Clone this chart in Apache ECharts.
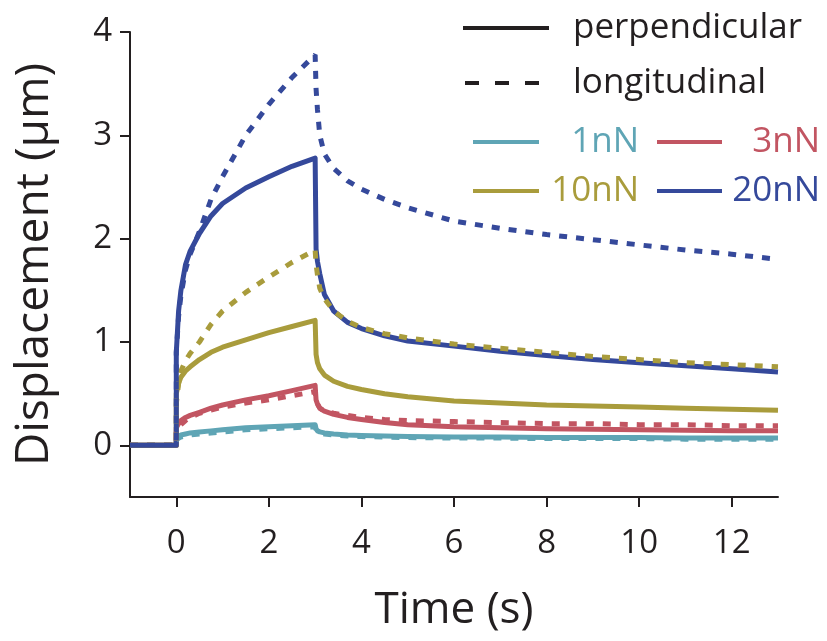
<!DOCTYPE html>
<html>
<head>
<meta charset="utf-8">
<script src="https://cdn.jsdelivr.net/npm/echarts@6/dist/echarts.min.js"></script>
<style>
html,body{margin:0;padding:0;background:#fff;}
#chart{width:827px;height:641px;}
</style>
</head>
<body>
<div id="chart"></div>
<script>
// Shared time samples (s); duplicated 0 / near-3 entries give the step on/off of the force
const time = [-1, 0, 0, 0.05, 0.1, 0.2, 0.3, 0.5, 0.75, 1, 1.5, 2, 2.5, 3, 3.02, 3.05, 3.1, 3.2, 3.4, 3.7, 4, 4.5, 5, 6, 7, 8, 9, 10, 11, 12, 13];

// Displacement (µm)
const perp1nN  = [0, 0, 0.07, 0.09, 0.10, 0.11, 0.12, 0.13, 0.14, 0.15, 0.17, 0.18, 0.19, 0.20, 0.16, 0.14, 0.13, 0.12, 0.11, 0.10, 0.095, 0.09, 0.085, 0.08, 0.08, 0.075, 0.075, 0.075, 0.07, 0.07, 0.07];
const long1nN  = [0, 0, 0.05, 0.07, 0.08, 0.09, 0.10, 0.11, 0.12, 0.13, 0.15, 0.16, 0.17, 0.18, 0.15, 0.13, 0.12, 0.11, 0.10, 0.09, 0.085, 0.08, 0.075, 0.07, 0.07, 0.065, 0.065, 0.065, 0.06, 0.06, 0.06];
const perp3nN  = [0, 0, 0.17, 0.21, 0.24, 0.27, 0.29, 0.32, 0.36, 0.39, 0.44, 0.48, 0.53, 0.58, 0.44, 0.40, 0.36, 0.33, 0.30, 0.27, 0.25, 0.22, 0.20, 0.18, 0.17, 0.16, 0.155, 0.15, 0.145, 0.14, 0.14];
const long3nN  = [0, 0, 0.12, 0.17, 0.20, 0.24, 0.27, 0.31, 0.34, 0.37, 0.41, 0.44, 0.48, 0.52, 0.44, 0.40, 0.36, 0.33, 0.31, 0.29, 0.27, 0.25, 0.24, 0.23, 0.22, 0.21, 0.21, 0.20, 0.20, 0.19, 0.19];
const perp10nN = [0, 0, 0.50, 0.60, 0.66, 0.72, 0.76, 0.83, 0.90, 0.95, 1.02, 1.09, 1.15, 1.21, 0.88, 0.80, 0.74, 0.68, 0.62, 0.57, 0.54, 0.50, 0.47, 0.43, 0.41, 0.39, 0.38, 0.37, 0.36, 0.35, 0.34];
const long10nN = [0, 0, 0.40, 0.60, 0.72, 0.82, 0.89, 1.00, 1.17, 1.30, 1.48, 1.63, 1.77, 1.89, 1.75, 1.65, 1.52, 1.42, 1.30, 1.20, 1.14, 1.08, 1.04, 0.98, 0.94, 0.90, 0.86, 0.83, 0.80, 0.78, 0.76];
const perp20nN = [0, 0, 0.90, 1.30, 1.50, 1.75, 1.88, 2.05, 2.22, 2.34, 2.49, 2.60, 2.70, 2.78, 1.90, 1.78, 1.66, 1.46, 1.30, 1.19, 1.13, 1.06, 1.01, 0.96, 0.91, 0.87, 0.83, 0.80, 0.77, 0.74, 0.71];
const long20nN = [0, 0, 0.90, 1.25, 1.45, 1.70, 1.85, 2.07, 2.38, 2.60, 3.00, 3.30, 3.56, 3.78, 3.45, 3.25, 3.00, 2.82, 2.68, 2.56, 2.48, 2.38, 2.30, 2.17, 2.10, 2.04, 1.99, 1.94, 1.89, 1.85, 1.80];

const xTicks = [0, 2, 4, 6, 8, 10, 12];
const yTicks = [0, 1, 2, 3, 4];
const forces = ['1nN', '3nN', '10nN', '20nN'];
const colors = ['#5fa5b5', '#c25562', '#a99c3c', '#35499b'];
const perpSets = [perp1nN, perp3nN, perp10nN, perp20nN];
const longSets = [long1nN, long3nN, long10nN, long20nN];

const FONT = '"Open Sans", "Noto Sans", sans-serif';
const TXT = '#231f20';

function pairs(vals) { return time.map((t, i) => [t, vals[i]]); }

const series = [];
perpSets.forEach((v, i) => series.push({
  name: forces[i] + ' perpendicular', type: 'line', data: pairs(v), symbol: 'none',
  lineStyle: { color: colors[i], width: 5, type: 'solid', join: 'round' }, z: 2 + i
}));
longSets.forEach((v, i) => series.push({
  name: forces[i] + ' longitudinal', type: 'line', data: pairs(v), symbol: 'none',
  lineStyle: { color: colors[i], width: 5, type: [8, 9], cap: 'butt' }, z: 10 + i
}));

const chart = echarts.init(document.getElementById('chart'));

function legendLine(x1, x2, y, color, dash) {
  return { type: 'line', shape: { x1: x1, y1: y, x2: x2, y2: y },
    style: { stroke: color, lineWidth: 4, lineDash: dash || null } };
}
function legendText(x, y, text, color, align) {
  return { type: 'text', x: x, y: y,
    style: { text: text, fill: color, font: '35px ' + FONT, textAlign: align || 'left', textVerticalAlign: 'middle' } };
}

const axisLineStyle = { color: TXT, width: 2 };

chart.setOption({
  animation: false,
  backgroundColor: '#fff',
  grid: { left: 130, right: 49, top: 32, bottom: 144 },
  xAxis: {
    type: 'value', min: -1, max: 13,
    name: 'Time (s)', nameLocation: 'middle', nameGap: 91,
    nameTextStyle: { fontFamily: FONT, fontSize: 44, color: TXT },
    axisLine: { show: true, onZero: false, lineStyle: axisLineStyle },
    axisTick: { show: true, inside: false, length: 10, lineStyle: axisLineStyle, customValues: xTicks },
    axisLabel: { fontFamily: FONT, fontSize: 33, color: TXT, margin: 30, customValues: xTicks },
    splitLine: { show: false }
  },
  yAxis: {
    type: 'value', min: -0.5, max: 4,
    name: 'Displacement (µm)', nameLocation: 'middle', nameGap: 72, nameRotate: 90,
    nameTextStyle: { fontFamily: FONT, fontSize: 46, color: TXT },
    axisLine: { show: true, onZero: false, lineStyle: axisLineStyle },
    axisTick: { show: true, inside: false, length: 10, lineStyle: axisLineStyle, customValues: yTicks },
    axisLabel: { fontFamily: FONT, fontSize: 33, color: TXT, margin: 18, customValues: yTicks },
    splitLine: { show: false }
  },
  series: series,
  graphic: [
    legendLine(463, 549, 28, TXT),
    legendText(573, 28, 'perpendicular', TXT),
    legendLine(465, 546, 83, TXT, [14, 16]),
    legendText(573, 83, 'longitudinal', TXT),
    legendLine(473, 539, 142, colors[0]),
    legendText(639, 142, forces[0], colors[0], 'right'),
    legendLine(657, 722, 142, colors[1]),
    legendText(820, 142, forces[1], colors[1], 'right'),
    legendLine(473, 539, 191, colors[2]),
    legendText(639, 191, forces[2], colors[2], 'right'),
    legendLine(657, 722, 191, colors[3]),
    legendText(820, 191, forces[3], colors[3], 'right')
  ]
});
</script>
</body>
</html>
